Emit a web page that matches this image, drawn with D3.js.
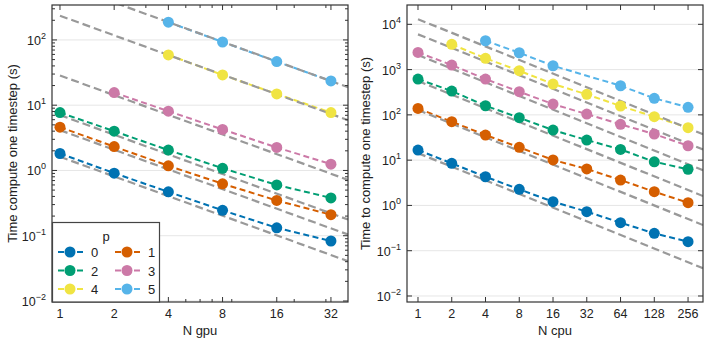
<!DOCTYPE html>
<html>
<head>
<meta charset="utf-8">
<script src="https://cdn.jsdelivr.net/npm/d3@7"></script>
<style>
  body { margin: 0; background: #fff; }
  svg { display: block; font-family: "Liberation Sans", Arial, sans-serif; }
</style>
</head>
<body>
<svg id="chart" width="709" height="341"></svg>
<script>
// series labels and colours
const pLabels = ["0", "1", "2", "3", "4", "5"];
const colors = ["#0072B2", "#D55E00", "#009E73", "#CC79A7", "#F0E442", "#56B4E9"];

// GPU panel
const gpuN = [
  [1, 2, 4, 8, 16, 32],
  [1, 2, 4, 8, 16, 32],
  [1, 2, 4, 8, 16, 32],
  [2, 4, 8, 16, 32],
  [4, 8, 16, 32],
  [4, 8, 16, 32]
];
const gpuTime = [
  [1.82, 0.91, 0.47, 0.245, 0.132, 0.083],
  [4.6, 2.32, 1.18, 0.625, 0.347, 0.21],
  [7.7, 4.0, 2.05, 1.08, 0.6, 0.38],
  [15.6, 8.1, 4.25, 2.25, 1.25],
  [58.9, 29.1, 14.9, 7.7],
  [187, 93, 46.6, 23.5]
];
// ideal scaling lines, value at N = 1
const gpuIdeal = [1.62, 4.15, 7.05, 28.5, 235, 750];
const gpuTicks = [1, 2, 4, 8, 16, 32];

// CPU panel
const cpuN = [
  [1, 2, 4, 8, 16, 32, 64, 128, 256],
  [1, 2, 4, 8, 16, 32, 64, 128, 256],
  [1, 2, 4, 8, 16, 32, 64, 128, 256],
  [1, 2, 4, 8, 16, 32, 64, 128, 256],
  [2, 4, 8, 16, 32, 64, 128, 256],
  [4, 8, 16, 64, 128, 256]
];
const cpuTime = [
  [16.7, 8.5, 4.3, 2.27, 1.21, 0.73, 0.416, 0.242, 0.158],
  [139, 70.6, 35.9, 19.2, 10.1, 6.4, 3.64, 2.01, 1.15],
  [618, 336, 159, 86.5, 46.2, 27.8, 17.3, 9.2, 6.3],
  [2400, 1260, 618, 325, 173, 104, 61.8, 37.7, 20.8],
  [3610, 1774, 944, 480, 284, 157, 91, 52],
  [4335, 2355, 1216, 440, 232, 147]
];
const cpuIdeal = [14.3, 128, 560, 2090, 6000, 13000];
const cpuTicks = [1, 2, 4, 8, 16, 32, 64, 128, 256];

const yTicks = [-2, -1, 0, 1, 2, 3, 4];

const svg = d3.select("#chart");

function drawPanel(cfg) {
  const { left, right, top, bottom } = cfg;
  const x = d3.scaleLog().domain(cfg.xDomain).range([left, right]);
  const y = d3.scaleLog().domain(cfg.yDomain).range([bottom, top]);
  const g = svg.append("g");

  g.append("clipPath").attr("id", cfg.id)
    .append("rect")
    .attr("x", left).attr("y", top)
    .attr("width", right - left).attr("height", bottom - top);

  // grid lines at decades
  const decades = yTicks.map(e => Math.pow(10, e)).filter(v => v >= cfg.yDomain[0] && v <= cfg.yDomain[1]);
  g.append("g").selectAll("line")
    .data(decades)
    .enter().append("line")
    .attr("x1", left).attr("x2", right)
    .attr("y1", d => y(d)).attr("y2", d => y(d))
    .attr("stroke", "#e6e6e6")
    .attr("stroke-width", 1);

  const plot = g.append("g").attr("clip-path", `url(#${cfg.id})`);
  const line = d3.line().x(d => x(d[0])).y(d => y(d[1]));

  // measured series
  cfg.n.forEach((ns, i) => {
    const pts = ns.map((n, j) => [n, cfg.t[i][j]]);
    plot.append("path")
      .attr("d", line(pts))
      .attr("fill", "none")
      .attr("stroke", colors[i])
      .attr("stroke-width", 2)
      .attr("stroke-dasharray", "6,3.5");
  });

  // ideal scaling
  cfg.ideal.forEach(v => {
    const pts = [[1, v], [cfg.xDomain[1], v / cfg.xDomain[1]]];
    plot.append("path")
      .attr("d", line(pts))
      .attr("fill", "none")
      .attr("stroke", "#999")
      .attr("stroke-width", 2.2)
      .attr("stroke-dasharray", "8,4");
  });

  // markers
  cfg.n.forEach((ns, i) => {
    plot.append("g").selectAll("circle")
      .data(ns.map((n, j) => [n, cfg.t[i][j]]))
      .enter().append("circle")
      .attr("cx", d => x(d[0]))
      .attr("cy", d => y(d[1]))
      .attr("r", 5.5)
      .attr("fill", colors[i]);
  });

  // ticks (inward on all sides)
  const tk = g.append("g").attr("stroke", "#333").attr("stroke-width", 1);
  cfg.xTicks.forEach(v => {
    tk.append("line").attr("x1", x(v)).attr("x2", x(v)).attr("y1", bottom).attr("y2", bottom - 5);
    tk.append("line").attr("x1", x(v)).attr("x2", x(v)).attr("y1", top).attr("y2", top + 5);
  });
  decades.forEach(v => {
    tk.append("line").attr("x1", left).attr("x2", left + 5).attr("y1", y(v)).attr("y2", y(v));
    tk.append("line").attr("x1", right).attr("x2", right - 5).attr("y1", y(v)).attr("y2", y(v));
  });
  if (cfg.minor) {
    const xMinor = [];
    for (let k = 0; k < 3; k++) for (let m = 2; m <= 9; m++) xMinor.push(m * Math.pow(10, k));
    xMinor.filter(v => v > cfg.xDomain[0] && v < cfg.xDomain[1] && !cfg.xTicks.includes(v))
      .forEach(v => {
        tk.append("line").attr("x1", x(v)).attr("x2", x(v)).attr("y1", bottom).attr("y2", bottom - 3);
        tk.append("line").attr("x1", x(v)).attr("x2", x(v)).attr("y1", top).attr("y2", top + 3);
      });
    const yMinor = [];
    yTicks.forEach(e => { for (let m = 2; m <= 9; m++) yMinor.push(m * Math.pow(10, e)); });
    yMinor.filter(v => v > cfg.yDomain[0] && v < cfg.yDomain[1])
      .forEach(v => {
        tk.append("line").attr("x1", left).attr("x2", left + 3).attr("y1", y(v)).attr("y2", y(v));
        tk.append("line").attr("x1", right).attr("x2", right - 3).attr("y1", y(v)).attr("y2", y(v));
      });
  }

  // frame
  g.append("rect")
    .attr("x", left).attr("y", top)
    .attr("width", right - left).attr("height", bottom - top)
    .attr("fill", "none")
    .attr("stroke", "#333")
    .attr("stroke-width", 1.2);

  // tick labels
  g.append("g").selectAll("text")
    .data(cfg.xTicks)
    .enter().append("text")
    .attr("x", d => x(d))
    .attr("y", bottom + 16)
    .attr("text-anchor", "middle")
    .attr("font-size", "12.5px")
    .attr("fill", "#222")
    .text(d => d);

  const yl = g.append("g").selectAll("text")
    .data(yTicks.filter(e => Math.pow(10, e) >= cfg.yDomain[0] * 0.999 && Math.pow(10, e) <= cfg.yDomain[1]))
    .enter().append("text")
    .attr("x", left - 6)
    .attr("y", d => y(Math.pow(10, d)) + 5)
    .attr("text-anchor", "end")
    .attr("font-size", "12.5px")
    .attr("fill", "#222");
  yl.append("tspan").text("10");
  yl.append("tspan").attr("dy", -6).attr("font-size", "9px").text(d => d < 0 ? "\u2212" + (-d) : d);

  // axis titles
  g.append("text")
    .attr("x", (left + right) / 2)
    .attr("y", bottom + 33)
    .attr("text-anchor", "middle")
    .attr("font-size", "13px")
    .attr("fill", "#222")
    .text(cfg.xLabel);

  g.append("text")
    .attr("transform", "rotate(-90)")
    .attr("x", -(top + bottom) / 2)
    .attr("y", cfg.yLabelX)
    .attr("text-anchor", "middle")
    .attr("font-size", "13px")
    .attr("fill", "#222")
    .text(cfg.yLabel);

  return { g, x, y };
}

const gpu = drawPanel({
  id: "clip-gpu", left: 52, right: 348, top: 5, bottom: 302,
  xDomain: [0.903, 39.8], yDomain: [0.00965, 343],
  n: gpuN, t: gpuTime, ideal: gpuIdeal, xTicks: gpuTicks, minor: true,
  xLabel: "N gpu", yLabel: "Time compute one timestep (s)", yLabelX: 17
});

drawPanel({
  id: "clip-cpu", left: 407, right: 703, top: 5, bottom: 302,
  xDomain: [0.798, 348], yDomain: [0.00737, 26700],
  n: cpuN, t: cpuTime, ideal: cpuIdeal, xTicks: cpuTicks, minor: false,
  xLabel: "N cpu", yLabel: "Time to compute one timestep (s)", yLabelX: 370
});

// legend
const legend = svg.append("g");
legend.append("rect")
  .attr("x", 52.5).attr("y", 222.5)
  .attr("width", 107).attr("height", 79.5)
  .attr("fill", "#fff")
  .attr("stroke", "#444")
  .attr("stroke-width", 1.2);
legend.append("text")
  .attr("x", 106).attr("y", 241)
  .attr("text-anchor", "middle")
  .attr("font-size", "13px")
  .attr("fill", "#222")
  .text("p");

const item = legend.selectAll("g.item")
  .data(pLabels)
  .enter().append("g")
  .attr("class", "item")
  .attr("transform", (d, i) => `translate(${58 + (i % 2) * 57},${252 + Math.floor(i / 2) * 18.5})`);
item.append("line")
  .attr("x1", 0).attr("x2", 26)
  .attr("stroke", (d, i) => colors[i])
  .attr("stroke-width", 2)
  .attr("stroke-dasharray", "6,3.5");
item.append("circle")
  .attr("cx", 12).attr("r", 5.5)
  .attr("fill", (d, i) => colors[i]);
item.append("text")
  .attr("x", 33).attr("y", 5)
  .attr("font-size", "13px")
  .attr("fill", "#222")
  .text(d => d);
</script>
</body>
</html>
